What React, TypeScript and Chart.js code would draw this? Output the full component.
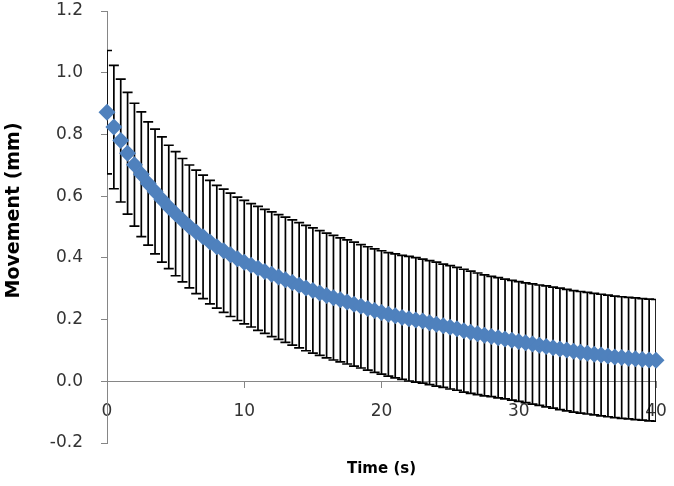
import React, { useEffect, useRef } from 'react';
import { Chart, registerables } from 'chart.js';

Chart.register(...registerables);

const TIME = [
  0, 0.5, 1, 1.5, 2, 2.5, 3, 3.5, 4, 4.5, 5, 5.5, 6, 6.5, 7, 7.5, 8, 8.5, 9, 9.5,
  10, 10.5, 11, 11.5, 12, 12.5, 13, 13.5, 14, 14.5, 15, 15.5, 16, 16.5, 17, 17.5, 18, 18.5, 19, 19.5,
  20, 20.5, 21, 21.5, 22, 22.5, 23, 23.5, 24, 24.5, 25, 25.5, 26, 26.5, 27, 27.5, 28, 28.5, 29, 29.5,
  30, 30.5, 31, 31.5, 32, 32.5, 33, 33.5, 34, 34.5, 35, 35.5, 36, 36.5, 37, 37.5, 38, 38.5, 39, 39.5,
  40,
];

const MEAN = [
  0.872, 0.824, 0.780, 0.739, 0.702, 0.671, 0.641, 0.615, 0.589, 0.565,
  0.543, 0.522, 0.502, 0.484, 0.468, 0.451, 0.436, 0.423, 0.410, 0.397,
  0.386, 0.376, 0.366, 0.356, 0.347, 0.338, 0.329, 0.320, 0.311, 0.302,
  0.294, 0.286, 0.278, 0.271, 0.264, 0.257, 0.250, 0.243, 0.236, 0.229,
  0.223, 0.217, 0.212, 0.207, 0.203, 0.199, 0.195, 0.190, 0.185, 0.180,
  0.175, 0.170, 0.164, 0.159, 0.154, 0.149, 0.145, 0.141, 0.137, 0.133,
  0.129, 0.125, 0.121, 0.117, 0.113, 0.109, 0.105, 0.101, 0.097, 0.094,
  0.091, 0.088, 0.085, 0.082, 0.079, 0.077, 0.075, 0.073, 0.071, 0.069,
  0.068,
];

const SD = [
  0.200, 0.200, 0.199, 0.197, 0.199, 0.202, 0.200, 0.202, 0.203, 0.200,
  0.201, 0.200, 0.199, 0.200, 0.200, 0.200, 0.199, 0.200, 0.200, 0.200,
  0.200, 0.200, 0.201, 0.201, 0.202, 0.202, 0.203, 0.203, 0.203, 0.203,
  0.203, 0.202, 0.202, 0.202, 0.201, 0.201, 0.201, 0.200, 0.200, 0.200,
  0.200, 0.200, 0.201, 0.201, 0.202, 0.202, 0.201, 0.201, 0.201, 0.200,
  0.200, 0.199, 0.199, 0.198, 0.197, 0.196, 0.195, 0.195, 0.194, 0.194,
  0.194, 0.194, 0.195, 0.195, 0.196, 0.196, 0.197, 0.197, 0.197, 0.197,
  0.197, 0.197, 0.197, 0.197, 0.197, 0.197, 0.197, 0.197, 0.197, 0.197,
  0.197,
];

const X_TICKS = [0, 10, 20, 30, 40];
const Y_TICKS = [-0.2, 0, 0.2, 0.4, 0.6, 0.8, 1.0, 1.2];

const X_TITLE = 'Time (s)';
const Y_TITLE = '     Movement (mm)';

const AXIS_GRAY = '#868686';
const TEXT_COLOR = '#333333';
const MARKER_BLUE = '#4F81BD';

const errorBarsPlugin = {
  id: 'errorBars',
  beforeDatasetsDraw(chart: any) {
    const { ctx, chartArea } = chart;
    const xs = chart.scales.x;
    const ys = chart.scales.y;
    const cap = 5;
    ctx.save();
    ctx.beginPath();
    ctx.rect(chartArea.left, 0, chartArea.right - chartArea.left, chart.height);
    ctx.clip();
    ctx.strokeStyle = '#000000';
    ctx.lineWidth = 1.7;
    for (let i = 0; i < TIME.length; i++) {
      const px = xs.getPixelForValue(TIME[i]);
      const top = ys.getPixelForValue(MEAN[i] + SD[i]);
      const bot = ys.getPixelForValue(MEAN[i] - SD[i]);
      ctx.beginPath();
      ctx.moveTo(px, top);
      ctx.lineTo(px, bot);
      ctx.moveTo(px - cap, top);
      ctx.lineTo(px + cap, top);
      ctx.moveTo(px - cap, bot);
      ctx.lineTo(px + cap, bot);
      ctx.stroke();
    }
    ctx.restore();
  },
};

export default function App() {
  const canvasRef = useRef<HTMLCanvasElement | null>(null);

  useEffect(() => {
    if (!canvasRef.current) return;
    const points = TIME.map((t, i) => ({ x: t, y: MEAN[i] }));
    const tickFont = { family: 'DejaVu Sans', size: 17 };
    const chart = new Chart(canvasRef.current, {
      type: 'scatter',
      data: {
        datasets: [
          {
            label: 'Movement',
            data: points,
            xAxisID: 'x',
            yAxisID: 'y',
            showLine: false,
            pointStyle: 'rectRot',
            pointRadius: 8.5,
            pointHoverRadius: 8.5,
            pointBackgroundColor: MARKER_BLUE,
            pointBorderColor: MARKER_BLUE,
            pointBorderWidth: 0,
            clip: false,
          },
        ],
      },
      options: {
        animation: false,
        responsive: false,
        events: [],
        layout: { padding: { left: 0, right: 18, top: 11, bottom: 0 } },
        plugins: {
          legend: { display: false },
          tooltip: { enabled: false },
          title: { display: false },
        },
        scales: {
          x: {
            type: 'linear',
            axis: 'x',
            position: { y: 0 },
            min: 0,
            max: 40,
            afterBuildTicks: (s: any) => {
              s.ticks = X_TICKS.map((v) => ({ value: v }));
            },
            grid: {
              drawOnChartArea: false,
              drawTicks: true,
              tickLength: 6,
              color: AXIS_GRAY,
            },
            border: { display: true, color: AXIS_GRAY, width: 1 },
            ticks: {
              font: tickFont,
              color: TEXT_COLOR,
              padding: 14,
              maxRotation: 0,
              callback: (v: any) => String(v),
            },
            afterFit: (s: any) => {
              s.paddingLeft = 0;
              s.paddingRight = 0;
            },
          },
          x2: {
            type: 'linear',
            axis: 'x',
            position: 'bottom',
            min: 0,
            max: 40,
            grid: { display: false, drawTicks: false },
            border: { display: false },
            ticks: { display: false },
            title: {
              display: true,
              text: X_TITLE,
              color: '#000000',
              font: { family: 'DejaVu Sans', size: 15, weight: 'bold' },
              padding: { top: 0, bottom: 8 },
            },
            afterFit: (s: any) => {
              s.height = 43;
              s.paddingLeft = 0;
              s.paddingRight = 0;
            },
          },
          y: {
            type: 'linear',
            position: 'left',
            min: -0.2,
            max: 1.2,
            afterBuildTicks: (s: any) => {
              s.ticks = Y_TICKS.map((v) => ({ value: v }));
            },
            grid: {
              drawOnChartArea: false,
              drawTicks: true,
              tickLength: 6,
              color: AXIS_GRAY,
            },
            border: { display: true, color: AXIS_GRAY, width: 1 },
            ticks: {
              font: tickFont,
              color: TEXT_COLOR,
              padding: 18,
              callback: (v: any) => Number(v).toFixed(1),
            },
            title: {
              display: true,
              text: Y_TITLE,
              color: '#000000',
              font: { family: 'DejaVu Sans', size: 19, weight: 'bold' },
              padding: { top: 3, bottom: 0 },
            },
            afterFit: (s: any) => {
              s.width = 107;
              s.paddingTop = 0;
              s.paddingBottom = 0;
            },
          },
        },
      },
      plugins: [errorBarsPlugin],
    });
    return () => chart.destroy();
  }, []);

  return (
    <div style={{ position: 'absolute', left: 0, top: 0, width: 674, height: 486, background: '#ffffff' }}>
      <canvas ref={canvasRef} width={674} height={486} style={{ display: 'block' }} />
    </div>
  );
}
